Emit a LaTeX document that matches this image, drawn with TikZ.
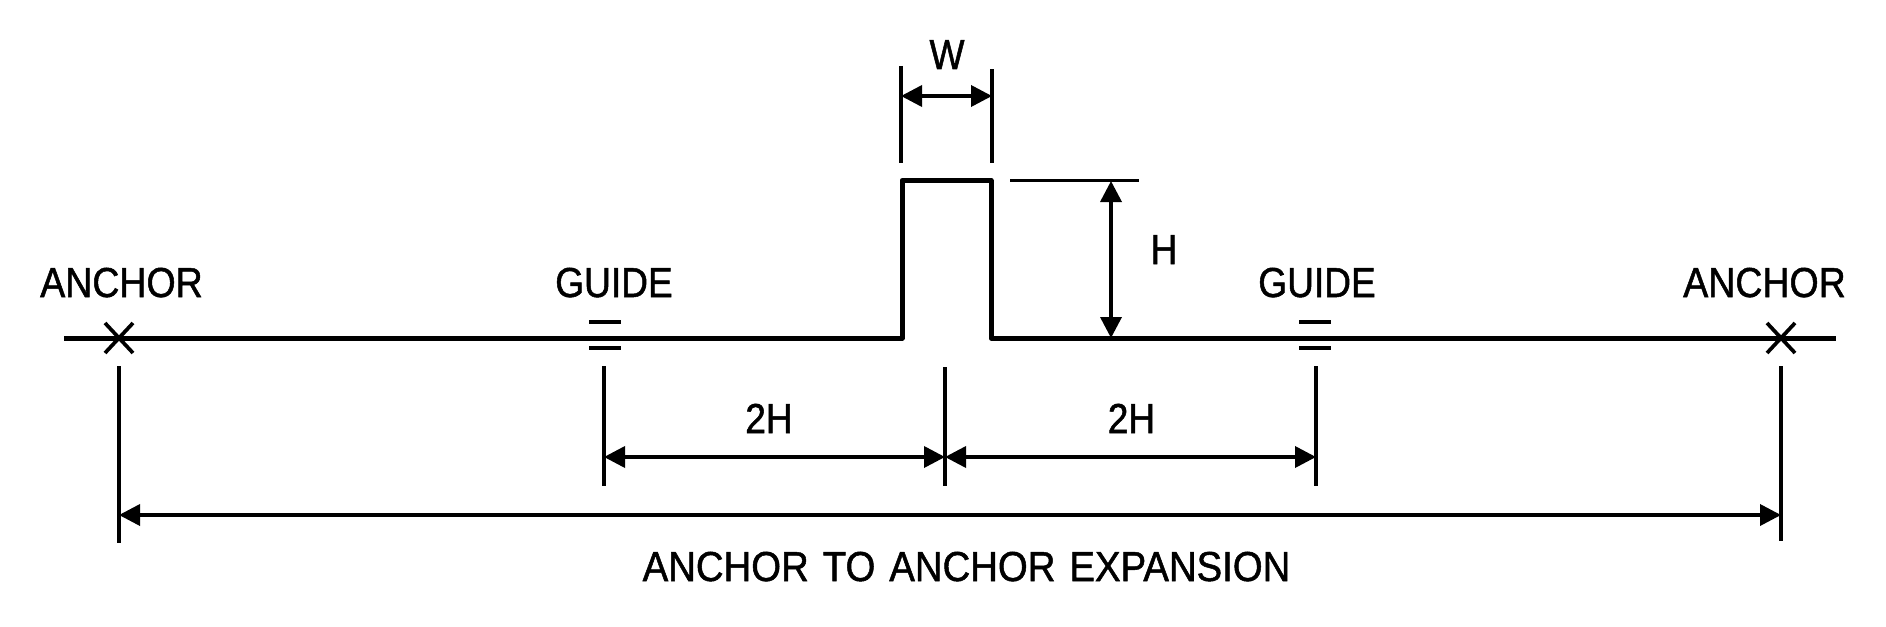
\documentclass[tikz,border=0pt]{standalone}
\usepackage{fontspec}
\setmainfont[FakeStretch=0.885,FakeBold=1.2]{Liberation Sans}
\newfontfamily\anchorfont[FakeStretch=0.895,FakeBold=1.2]{Liberation Sans}
\newfontfamily\widefont[FakeStretch=0.915,FakeBold=1.2]{Liberation Sans}
\usetikzlibrary{arrows.meta}
\tikzset{
  lbl/.style={inner sep=0pt,outer sep=0pt,anchor=base,text=black,font=\fontsize{41.9}{50}\selectfont},
  anchorlbl/.style={lbl,font=\anchorfont\fontsize{41.9}{50}\selectfont},
  widelbl/.style={lbl,font=\widefont\fontsize{41.9}{50}\selectfont},
  profile/.style={line width=5pt,line join=round,line cap=butt,draw=black},
  extline/.style={line width=3.7pt,draw=black},
  dimline/.style={line width=3.6pt,draw=black,{Triangle[length=21pt,width=21pt]}-{Triangle[length=21pt,width=21pt]}},
  mark line/.style={line width=3.7pt,draw=black}
}
\begin{document}
\begin{tikzpicture}[x=1pt,y=-1pt]
\useasboundingbox (0,0) rectangle (1886,626);
% profile
\coordinate (pstart) at (64,338);
\coordinate (pbl) at (902,338);
\coordinate (ptl) at (902,180.5);
\coordinate (ptr) at (991,180.5);
\coordinate (pbr) at (991,338);
\coordinate (pend) at (1836,338);
\draw[profile] (pstart) -- (pbl) -- (ptl) -- (ptr) -- (pbr) -- (pend);
% anchors
\coordinate (alc) at (119,338);
\coordinate (arc) at (1781,338);
\foreach \c in {alc,arc}{
  \draw[mark line] ([shift={(-14,-15)}]\c) -- ([shift={(14,15)}]\c);
  \draw[mark line] ([shift={(-14,15)}]\c) -- ([shift={(14,-15)}]\c);
}
% guides
\coordinate (gl1a) at (589,322); \coordinate (gl1b) at (621,322);
\coordinate (gl2a) at (589,348); \coordinate (gl2b) at (621,348);
\coordinate (gr1a) at (1299,322); \coordinate (gr1b) at (1331,322);
\coordinate (gr2a) at (1299,348); \coordinate (gr2b) at (1331,348);
\draw[mark line] (gl1a) -- (gl1b);
\draw[mark line] (gl2a) -- (gl2b);
\draw[mark line] (gr1a) -- (gr1b);
\draw[mark line] (gr2a) -- (gr2b);
% W dimension
\coordinate (wlt) at (901,66); \coordinate (wlb) at (901,163);
\coordinate (wrt) at (992,69); \coordinate (wrb) at (992,163);
\coordinate (wa) at (901,96); \coordinate (wb) at (992,96);
\draw[extline] (wlt) -- (wlb);
\draw[extline] (wrt) -- (wrb);
\draw[dimline] (wa) -- (wb);
% H dimension
\coordinate (hl) at (1010,180.5); \coordinate (hr) at (1139,180.5);
\coordinate (ha) at (1111,181); \coordinate (hb) at (1111,338);
\draw[extline] (hl) -- (hr);
\draw[dimline] (ha) -- (hb);
% extension lines
\coordinate (e1t) at (119,366); \coordinate (e1b) at (119,543);
\coordinate (e2t) at (604,366); \coordinate (e2b) at (604,486);
\coordinate (e3t) at (945,367); \coordinate (e3b) at (945,486);
\coordinate (e4t) at (1316,366); \coordinate (e4b) at (1316,486);
\coordinate (e5t) at (1781,366); \coordinate (e5b) at (1781,541);
\draw[extline] (e1t) -- (e1b);
\draw[extline] (e2t) -- (e2b);
\draw[extline] (e3t) -- (e3b);
\draw[extline] (e4t) -- (e4b);
\draw[extline] (e5t) -- (e5b);
% dimension arrows
\coordinate (d1) at (604,457); \coordinate (d2) at (945,457); \coordinate (d3) at (1316,457);
\coordinate (d4) at (119,515); \coordinate (d5) at (1781,515);
\draw[dimline] (d1) -- (d2);
\draw[dimline] (d2) -- (d3);
\draw[dimline] (d4) -- (d5);
% labels
\node[lbl] (tw) at (947,69) {W};
\node[lbl] (th) at (1164,264) {H};
\node[anchorlbl] (tal) at (121.5,297) {ANCHOR};
\node[anchorlbl] (tar) at (1764.5,297) {ANCHOR};
\node[lbl] (tgl) at (614,297) {GUIDE};
\node[lbl] (tgr) at (1317,297) {GUIDE};
\node[lbl] (t2l) at (769,433) {2H};
\node[lbl] (t2r) at (1131.5,433) {2H};
\node[widelbl] (tb) at (966.5,581) {\spaceskip=14pt ANCHOR TO ANCHOR EXPANSION};
\end{tikzpicture}
\end{document}
